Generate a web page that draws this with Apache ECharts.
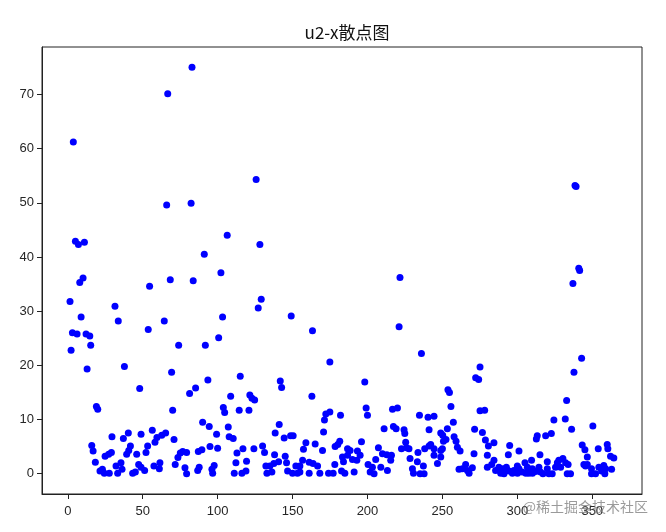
<!DOCTYPE html>
<html>
<head>
<meta charset="utf-8">
<script src="https://cdn.jsdelivr.net/npm/echarts@6/dist/echarts.min.js"></script>
<style>html,body{margin:0;padding:0;background:#fff}#c{width:666px;height:532px}</style>
</head>
<body>
<div id="c"></div>
<script>
const titleText = "u2-x散点图";
const watermarkText = "@稀土掘金技术社区";
const xTicks = [0, 50, 100, 150, 200, 250, 300, 350];
const yTicks = [0, 10, 20, 30, 40, 50, 60, 70];

// sample index (x) and value (y)
const xValues = [
3.7,66.7,82.9,125.7,338.5,339.2,106.4,128.2,91.1,102.2,341,341.6,221.7,337.1,129.1,127.1,103.3,149.1,163.3,221.1,82.3,66.0,
5.1,7.1,11.1,10.2,8.0,68.4,83.7,54.6,1.5,31.5,8.9,33.7,53.7,64.4,3.1,6.2,12.2,14.7,
15.3,2.2,74.0,12.9,37.8,69.3,48.0,81.3,85.3,19.1,20.0,70.0,
29.5,37.1,40.4,48.9,56.4,59.5,62.7,65.3,70.9,58.2,16.0,16.9,24.9,27.3,29.1,41.8,40.7,39.3,46.0,53.3,52.2,18.4,21.5,24.4,27.7,23.1,32.2,33.3,35.5,36.2,43.3,45.1,47.3,48.9,51.3,57.5,61.1,61.5,71.7,73.5,75.1,76.7,79.3,78.2,79.3,86.7,87.1,
100.7,91.8,174.9,93.5,115.1,141.8,142.7,108.7,121.5,122.9,124.7,162.9,103.8,104.7,114.4,120.9,174.9,172.2,182.0,171.3,90.0,94.4,107.1,141.1,138.4,170.7,99.3,107.7,110.4,144.4,148.7,150.4,158.9,165.1,181.5,180.2,178.4,89.5,
94.9,100,116.9,124.2,130,131.3,112.9,138.0,145.1,157.3,170,112.2,119.3,132.2,134.9,137.5,140.7,146,152.2,154.9,156.7,161.1,163.7,166.7,178.2,184,87.7,97.7,96.2,96.7,111.1,116.2,118.9,132.9,136.2,146.7,150,153.3,154.9,161.1,168.2,174,177.1,182.7,184.9,
236,275.1,272.2,274.2,198.2,253.7,254.7,199.1,200,216.7,220,255.7,234.7,240.4,244.4,275.1,278.2,257.3,211.1,217.3,219.1,224.4,224.9,241.1,253.3,248.9,250.2,271.5,276.7,257.8,259.1,278.7,196,225.5,250.7,252.4,186.7,188.4,193.3,195.1,207.3,210,212.9,216,222.7,226,227.7,233.7,238.2,241.1,242.2,244.4,248.9,250,260,261.8,271.1,280,
183.3,186.7,190,192.9,191.1,200.4,203.3,201.8,204.4,205.5,208.9,213.3,215.5,228.4,230,230.7,233.3,235.1,237.3,237.8,244.4,246.7,248.9,261.1,263.3,265.5,266.7,267.8,270,280,
342.9,337.8,332.9,332,324.4,322.7,318.9,313.3,312.7,336.2,350.4,280.7,284.4,294.9,294,301.1,315.1,343.3,345.1,346.7,354,360,360.4,362.2,364.4,284.4,282.9,287.7,290.4,292.7,294.4,285.5,288.9,291.1,296.7,297.7,300,301.1,303.3,305.1,306.7,309.5,310,300.1,305.7,307.7,310.1,312.2,314.4,315.5,317.1,320,320,321.1,323.3,325.5,326.7,327.7,328.9,330.4,332.2,333.3,335.5,333.9,344.4,345.5,346.7,349.5,349.5,352.2,354.4,356.2,357.7,358.4,358.9,362.9
];
const yValues = [
61.2,70.1,75.0,54.3,53.2,53.0,44.0,42.3,40.5,37.1,37.9,37.5,36.2,35.1,32.2,30.6,28.9,29.1,26.4,27.1,49.9,49.6,
42.9,42.3,42.7,36.1,35.3,35.8,35.6,34.6,31.8,30.9,28.9,28.2,26.6,28.2,26.0,25.8,25.8,25.4,
23.7,22.8,23.7,19.3,19.8,18.7,15.7,14.8,15.8,12.4,11.9,11.7,
6.8,6.5,7.5,7.3,8.0,6.7,7.1,7.5,6.3,5.8,5.2,4.2,3.2,3.6,3.9,5.1,4.3,3.6,3.6,5.1,3.9,2.1,0.5,0.1,0.1,0.8,1.4,0.1,2.0,0.8,0.1,0.3,1.7,1.2,0.6,1.4,0.9,2.0,1.7,3.0,3.8,4.1,3.9,1.1,0.0,0.6,4.1,
25.1,23.7,20.6,17.3,18.0,17.1,15.9,14.3,14.5,13.9,13.6,14.3,12.2,11.3,11.7,11.7,11.4,11.0,10.8,9.9,9.5,8.7,8.6,9.1,7.5,7.7,7.3,6.8,6.5,6.6,7.0,7.0,5.7,5.5,6.0,5.4,5.0,4.4,
5.0,4.7,4.6,4.6,5.1,3.9,3.8,3.5,3.2,4.5,4.3,2.0,2.3,1.4,1.4,1.9,2.2,2.0,1.4,1.4,2.5,2.1,1.9,1.4,1.7,2.2,1.2,1.5,0.8,0.1,0.1,0.1,0.5,0.1,0.3,0.5,0.1,0.1,0.3,0.1,0.1,0.1,0.1,0.5,0.1,
22.2,19.7,17.7,17.4,16.9,15.5,15.0,12.1,10.8,11.9,12.1,12.4,10.8,10.4,10.6,11.6,11.7,9.5,8.3,8.7,8.3,8.1,7.4,8.1,8.3,7.5,7.1,8.2,7.6,6.8,6.0,6.2,5.9,5.8,6.0,6.3,4.6,4.3,4.2,3.4,4.8,3.7,3.5,3.4,4.6,4.8,4.6,3.9,4.6,5.1,5.4,4.6,4.3,4.6,4.9,4.2,3.7,3.4,
3.1,3.4,2.6,2.5,0.3,1.7,1.2,0.3,0.0,2.6,1.2,0.6,2.5,2.8,0.9,0.1,2.2,0.0,1.4,0.0,3.4,1.9,3.1,0.8,0.9,1.7,0.6,0.1,1.1,1.2,
21.3,18.7,13.5,10.1,9.9,7.4,7.0,7.0,6.4,8.2,8.8,5.1,5.7,5.2,3.5,4.2,3.5,5.3,4.4,3.1,4.6,5.4,4.6,3.2,2.9,2.5,1.7,1.2,0.9,1.2,0.5,0.6,0.1,0.0,0.1,0.6,1.4,0.9,0.3,2.0,1.2,2.5,0.9,0.1,0.1,0.1,0.1,0.4,1.2,0.3,0.0,2.2,0.9,0.0,0.0,1.2,2.0,2.5,1.2,2.8,2.0,0.0,0.0,1.7,1.7,1.4,1.7,0.9,0.0,0.0,1.2,0.5,1.5,0.0,0.9,0.8
];

const points = xValues.map((x, i) => [x, yValues[i]]);

const chart = echarts.init(document.getElementById('c'), null, {renderer: 'canvas'});
const labelFont = {color: '#262626', fontSize: 13, fontFamily: 'Liberation Sans, Arial, sans-serif'};
chart.setOption({
  animation: false,
  backgroundColor: '#ffffff',
  title: {
    text: titleText,
    left: 342, top: 19, textAlign: 'center',
    textStyle: {fontFamily: 'Noto Sans CJK SC', fontWeight: 'normal', fontSize: 17, color: '#111'}
  },
  graphic: [{
    type: 'text', right: 18, top: 500, z: 100,
    style: {text: watermarkText, fill: 'rgba(120,120,120,0.75)', font: '14px "Noto Sans CJK SC"'}
  }],
  grid: {left: 42, right: 24, top: 47, bottom: 38, show: true, borderColor: '#222', borderWidth: 1, backgroundColor: 'transparent'},
  xAxis: {
    type: 'value', min: -17.2, max: 383.2,
    splitLine: {show: false},
    axisLine: {show: true, onZero: false, lineStyle: {color: '#222'}},
    axisTick: {show: true, length: 5, customValues: xTicks, lineStyle: {color: '#222'}},
    axisLabel: Object.assign({margin: 11, customValues: xTicks}, labelFont)
  },
  yAxis: {
    type: 'value', min: -3.75, max: 78.75,
    splitLine: {show: false},
    axisLine: {show: true, onZero: false, lineStyle: {color: '#222'}},
    axisTick: {show: true, length: 5, customValues: yTicks, lineStyle: {color: '#222'}},
    axisLabel: Object.assign({margin: 8, customValues: yTicks}, labelFont)
  },
  series: [{
    type: 'scatter',
    data: points,
    symbol: 'circle',
    symbolSize: 7,
    itemStyle: {color: '#0000ff', opacity: 1},
    silent: true
  }]
});
</script>
</body>
</html>
